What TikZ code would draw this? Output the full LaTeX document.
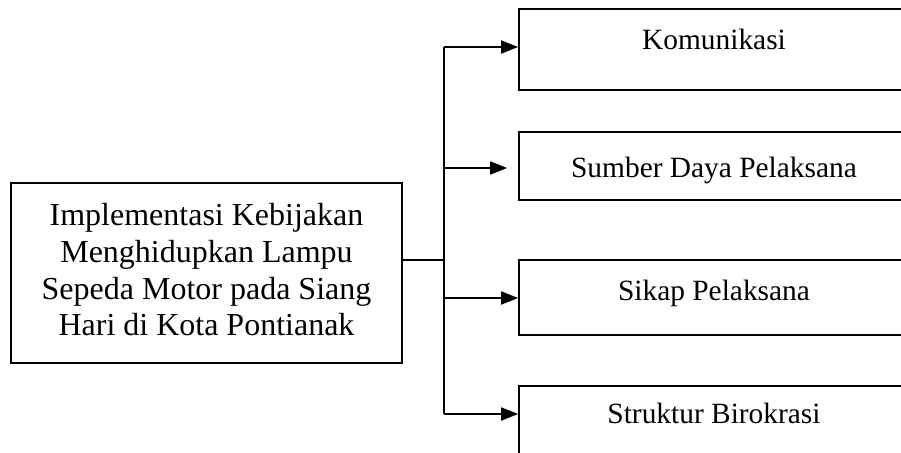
\documentclass[tikz,border=0pt]{standalone}
\usepackage{fontspec}
\setmainfont{Liberation Serif}
\usetikzlibrary{arrows.meta}
\begin{document}
\begin{tikzpicture}[x=1pt,y=-1pt,
  mainbox/.style={draw,line width=1.6pt,minimum width=391pt,minimum height=180pt,inner sep=0pt},
  maintext/.style={align=center,inner sep=0pt,font=\fontsize{32}{36.7}\selectfont},
  subbox/.style={draw,line width=1.6pt,minimum width=390pt,inner sep=0pt},
  lbl/.style={anchor=base,font=\fontsize{29.4}{33}\selectfont,inner sep=0pt},
  conn/.style={line width=1.2pt},
  arr/.style={line width=1.8pt,-{Triangle[length=17pt,width=13pt]}}]
\useasboundingbox (0,0) rectangle (901,452);
\clip (0,0) rectangle (901,452);
\node[mainbox] (main) at (206.5,273) {};
\node[maintext] (mtext) at (206.5,270) {Implementasi Kebijakan\\Menghidupkan Lampu\\Sepeda Motor pada Siang\\Hari di Kota Pontianak};
\node[subbox,minimum height=81pt] (b1) at (714,49.5) {};
\node[subbox,minimum height=68pt] (b2) at (714,166) {};
\node[subbox,minimum height=75pt] (b3) at (714,297.5) {};
\node[subbox,minimum height=100pt] (b4) at (714,436) {};
\node[lbl] (t1) at (714,49) {Komunikasi};
\node[lbl] (t2) at (714,177) {Sumber Daya Pelaksana};
\node[lbl] (t3) at (714,300) {Sikap Pelaksana};
\node[lbl] (t4) at (714,423) {Struktur Birokrasi};
\coordinate (vtop) at (444,47);
\coordinate (vbot) at (444,414);
\coordinate (vmid) at (444,260);
\coordinate (v2) at (444,168);
\coordinate (v3) at (444,298);
\draw[conn] (main.east |- vmid) -- (vmid);
\draw[conn] (vtop) -- (vbot);
\draw[arr] (vtop) -- (b1.west |- vtop);
\draw[arr,shorten >=11pt] (v2) -- (b2.west |- v2);
\draw[arr] (v3) -- (b3.west |- v3);
\draw[arr] (vbot) -- (b4.west |- vbot);
\end{tikzpicture}
\end{document}
